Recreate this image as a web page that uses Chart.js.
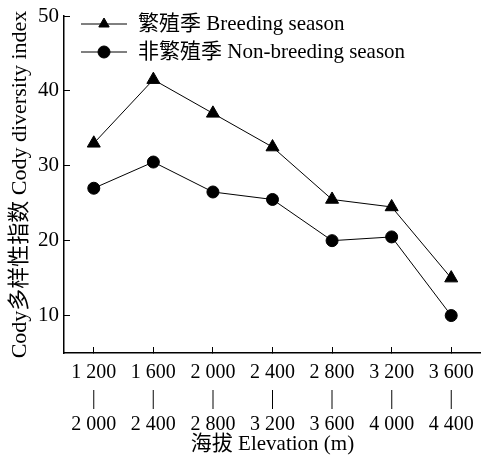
<!DOCTYPE html>
<html>
<head>
<meta charset="utf-8">
<script src="https://cdn.jsdelivr.net/npm/chart.js@4.4.1/dist/chart.umd.min.js"></script>
<style>
  html, body { margin: 0; padding: 0; background: #fff; overflow: hidden; }
  #wrap { width: 481px; height: 460px; position: relative; }
</style>
</head>
<body>
<div id="wrap"><canvas id="codyChart"></canvas></div>
<script>
// elevation bands (two-line labels: low | high)
const elevLow = ['1 200', '1 600', '2 000', '2 400', '2 800', '3 200', '3 600'];
const elevHigh = ['2 000', '2 400', '2 800', '3 200', '3 600', '4 000', '4 400'];
const breeding = [33, 41.5, 37, 32.5, 25.5, 24.5, 15];
const nonBreeding = [27, 30.5, 26.5, 25.5, 20, 20.5, 10];
const yTicks = [10, 20, 30, 40, 50];

const labels = elevLow.map((lo, i) => [lo, '|', elevHigh[i]]);
const FONT = "'Liberation Serif', 'Times New Roman', 'Noto Sans CJK SC', serif";

// legend drawn inside the plot, top-left
const innerLegend = {
    id: 'innerLegend',
    afterDraw(chart) {
        let ctx = chart.ctx;
        let x0 = 81, x1 = 127, tx = 138;
        let rows = [24, 52];
        let sizes = [6, 6];
        ctx.save();
        chart.data.datasets.forEach((ds, i) => {
            let y = rows[i];
            ctx.strokeStyle = '#000';
            ctx.lineWidth = 1;
            ctx.beginPath();
            ctx.moveTo(x0, y);
            ctx.lineTo(x1, y);
            ctx.stroke();
            ctx.fillStyle = '#000';
            Chart.helpers.drawPoint(ctx, {
                pointStyle: ds.pointStyle,
                radius: sizes[i],
                rotation: 0,
                borderWidth: 1
            }, 104, y);
            ctx.font = '21px ' + FONT;
            ctx.textBaseline = 'middle';
            ctx.textAlign = 'left';
            ctx.fillText(ds.label, tx, y);
        });
        ctx.restore();
    }
};

let ctx = document.getElementById('codyChart').getContext('2d');
let codyChart = new Chart(ctx, {
    type: 'line',
    data: {
        labels: labels,
        datasets: [{
            label: '繁殖季 Breeding season',
            data: breeding,
            borderColor: '#000',
            backgroundColor: '#000',
            borderWidth: 1,
            pointStyle: 'triangle',
            pointRadius: 7.5,
            pointHoverRadius: 7.5,
            tension: 0
        }, {
            label: '非繁殖季 Non-breeding season',
            data: nonBreeding,
            borderColor: '#000',
            backgroundColor: '#000',
            borderWidth: 1,
            pointStyle: 'circle',
            pointRadius: 6,
            pointHoverRadius: 6,
            tension: 0
        }]
    },
    options: {
        responsive: true,
        maintainAspectRatio: false,
        animation: false,
        layout: { autoPadding: false, padding: { top: 16, right: 0, left: 0, bottom: 0 } },
        plugins: {
            legend: { display: false },
            tooltip: { enabled: false }
        },
        scales: {
            x: {
                offset: true,
                grid: {
                    drawOnChartArea: false,
                    tickLength: -6,
                    color: '#000'
                },
                border: { color: '#000', width: 1.5 },
                ticks: {
                    color: '#000',
                    font: { family: FONT, size: 20, lineHeight: 1.3 },
                    padding: 13,
                    maxRotation: 0,
                    autoSkip: false
                },
                title: {
                    display: true,
                    text: '海拔 Elevation (m)',
                    color: '#000',
                    font: { family: FONT, size: 21 },
                    padding: { top: 0, bottom: 3 }
                },
                afterFit(scale) {
                    scale.height = 107;
                    scale.paddingLeft = 0;
                    scale.paddingRight = 0;
                }
            },
            y: {
                min: 5,
                max: 50,
                afterBuildTicks(scale) {
                    scale.ticks = yTicks.map(v => ({ value: v }));
                },
                grid: {
                    drawOnChartArea: false,
                    tickLength: -6,
                    color: '#000'
                },
                border: { color: '#000', width: 1.5 },
                ticks: {
                    color: '#000',
                    font: { family: FONT, size: 21 },
                    padding: 11
                },
                title: {
                    display: true,
                    text: 'Cody多样性指数 Cody diversity index',
                    color: '#000',
                    font: { family: FONT, size: 22 },
                    padding: { top: 7, bottom: 0 }
                },
                afterFit(scale) {
                    scale.width = 64;
                    scale.paddingTop = 0;
                    scale.paddingBottom = 0;
                }
            }
        }
    },
    plugins: [innerLegend]
});
</script>
</body>
</html>
